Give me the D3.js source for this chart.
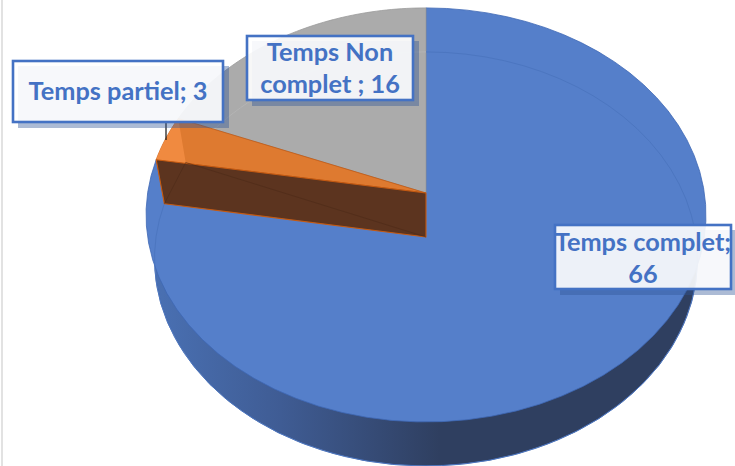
<!DOCTYPE html>
<html><head><meta charset="utf-8">
<script src="https://cdn.jsdelivr.net/npm/d3@7"></script>
<style>html,body{margin:0;padding:0;background:#fff;overflow:hidden}svg{display:block}</style>
</head><body><svg id="c" width="735" height="466"></svg>
<script>
const categories = ["Temps complet", "Temps partiel", "Temps Non complet"];
const values = [66, 3, 16];
const labelLines = [["Temps complet;", "66"], ["Temps partiel; 3"], ["Temps Non", "complet ; 16"]];
const topColors = ["#557fca", "#de7a30", "#ababab"];

const boxes = [
  {x:555,y:225,w:176,h:64,t:[251,283]},
  {x:13,y:61,w:210,h:61,t:[100]},
  {x:247,y:36,w:166,h:64,t:[61,93]}
];
const svg = d3.select("#c");
const cx = 426, topY = 193, botY = 237, k = -0.106, By = 204.7, Atop = 278.4, Abot = 270;
const project = (a, base, A) => {
  const u = Math.sin(a), v = Math.cos(a), d = 1 - k*v;
  return [cx + A*u/d, base - By*v/d];
};
const arcPts = (a0,a1,base,A) => d3.range(0,61).map(i => project(a0+(a1-a0)*i/60, base, A));
const line = d3.line();
const slices = d3.pie().sort(null).startAngle(0).endAngle(2*Math.PI)(values);
const p = slices[1];

const defs = svg.append("defs");
const grad = defs.append("linearGradient").attr("id","side").attr("gradientUnits","userSpaceOnUse")
  .attr("x1",150).attr("x2",440).attr("y1",0).attr("y2",0);
grad.append("stop").attr("offset",0).attr("stop-color","#4a71b4");
grad.append("stop").attr("offset",.45).attr("stop-color","#3f5c94");
grad.append("stop").attr("offset",1).attr("stop-color","#2f3f60");

// page edge
svg.append("rect").attr("x",1).attr("y",0).attr("width",2).attr("height",466).attr("fill","#e2e2e2");

// side wall (lower face)
svg.append("path").attr("d",line(arcPts(0,2*Math.PI,botY,Abot))+"Z")
  .attr("fill","url(#side)").attr("stroke","#3a5a98").attr("stroke-width",.6);

// top faces
const drawTop = (subset) => svg.append("g").selectAll("path").data(subset).join("path")
  .attr("d",d=>line([[cx,topY],...arcPts(d.startAngle,d.endAngle,topY,Atop)])+"Z")
  .attr("fill",d=>topColors[d.index])
  .attr("stroke",d=>["#3f68b5","#c55a11","#9a9a9a"][d.index]).attr("stroke-width",.8);
drawTop([slices[0], slices[2]]);

// bottom rim seen through the top
svg.append("path").attr("d",line(arcPts(slices[2].startAngle,slices[2].endAngle,botY,Abot)))
  .attr("fill","none").attr("stroke","#b4b4b4").attr("stroke-width",1);
svg.append("path").attr("d",line(arcPts(0,p.startAngle,botY,Abot)))
  .attr("fill","none").attr("stroke","#4c76c0").attr("stroke-width",1);

drawTop([p]);

// outer wall of the partial slice seen through
svg.append("path").attr("d",line([...arcPts(p.startAngle,p.endAngle,topY,Atop),...arcPts(p.startAngle,p.endAngle,botY,Abot).reverse()])+"Z")
  .attr("fill","#f08a40");

// inner wall of the partial slice
const s0 = project(p.startAngle,topY,Atop), b0 = project(p.startAngle,botY,Abot);
svg.append("path").attr("d",line([s0,[cx,topY],[cx,botY],b0])+"Z")
  .attr("fill","#5c341f").attr("stroke","#c55a11").attr("stroke-width",1.1).attr("stroke-linejoin","round");
svg.append("path").attr("d",line([[cx,botY],project(p.endAngle,botY,Abot),b0]))
  .attr("fill","none").attr("stroke","#4c2a17").attr("stroke-width",.8).attr("opacity",.7);

// leader line
svg.append("line").attr("x1",166).attr("x2",166).attr("y1",122).attr("y2",140).attr("stroke","#111").attr("stroke-width",1.2);

// labels
const g = svg.selectAll("g.lab").data(categories).join("g").attr("class","lab");
g.append("rect").attr("x",(d,i)=>boxes[i].x+5).attr("y",(d,i)=>boxes[i].y+5)
  .attr("width",(d,i)=>boxes[i].w+1).attr("height",(d,i)=>boxes[i].h+1)
  .attr("fill","#2f5597").attr("opacity",.4);
g.append("rect").attr("x",(d,i)=>boxes[i].x).attr("y",(d,i)=>boxes[i].y)
  .attr("width",(d,i)=>boxes[i].w).attr("height",(d,i)=>boxes[i].h)
  .attr("fill","#ffffff").attr("fill-opacity",.9)
  .attr("stroke","#4472c4").attr("stroke-width",2.6);
g.each(function(d,i){
  const b = boxes[i];
  d3.select(this).selectAll("text").data(labelLines[i]).join("text")
    .attr("x",b.x+b.w/2).attr("y",(t,j)=>b.t[j]).attr("text-anchor","middle")
    .attr("font-family","Lato, 'Open Sans', sans-serif").attr("font-weight",700)
    .attr("font-size",25.3).attr("fill","#4472c4").text(t=>t);
});
</script></body></html>
